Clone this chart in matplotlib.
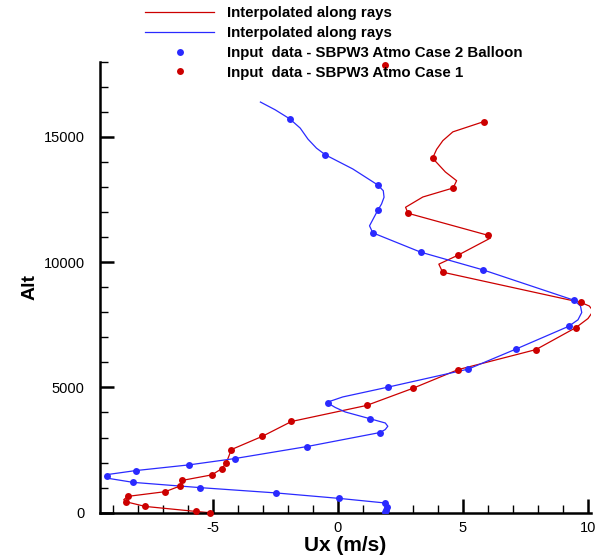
import matplotlib
matplotlib.use("Agg")
import matplotlib.pyplot as plt
from matplotlib.ticker import MultipleLocator
from matplotlib.lines import Line2D

plt.rcParams["font.family"] = ["Liberation Sans", "DejaVu Sans"]
plt.rcParams["axes.unicode_minus"] = False

RED = "#cc0000"
BLUE = "#2a2aff"

# input data - SBPW3 Atmo Case 2 Balloon (Ux, Alt)
blue_ux = [-1.92, -0.49, 1.60, 1.60, 1.40, 3.31, 5.81, 9.44, 9.23, 7.12, 5.21, 2.00,
           -0.37, 1.29, 1.69, -1.23, -4.12, -5.93, -8.08, -9.21, -8.17, -5.49, -2.48,
           0.07, 1.87, 1.96, 1.93, 1.90]
blue_alt = [15720, 14280, 13080, 12070, 11170, 10400, 9690, 8480, 7440, 6530, 5730, 5010,
            4360, 3750, 3200, 2640, 2160, 1910, 1680, 1450, 1210, 1000, 790,
            570, 390, 240, 100, 20]

# input data - SBPW3 Atmo Case 1
red_ux = [1.90, 5.84, 3.79, 4.61, 2.81, 6.01, 4.81, 4.19, 9.72, 9.52, 7.92, 4.81, 2.99,
          1.15, -1.85, -3.01, -4.25, -4.45, -4.63, -5.03, -6.21, -6.29, -6.89, -8.40,
          -8.48, -7.69, -5.67, -5.11]
red_alt = [17850, 15610, 14150, 12960, 11950, 11070, 10280, 9600, 8390, 7390, 6510, 5710, 4960,
           4280, 3640, 3050, 2520, 2000, 1760, 1510, 1290, 1070, 840, 650,
           440, 250, 50, 0]

# interpolated curves, vertices
blue_line_ux = [-3.09, -2.50, -1.92, -1.50, -1.19, -0.85, -0.49, 0.60, 1.60, 1.82, 1.85, 1.75,
                1.60, 1.27, 1.40, 3.31, 5.81, 9.44, 9.70, 9.75, 9.60, 9.23, 7.12, 5.21,
                2.00, 0.20, -0.30, -0.37, -0.10, 0.30, 1.29, 1.90, 2.00, 1.90, 1.69, -1.23,
                -4.12, -5.93, -8.08, -9.15, -9.30, -9.10, -8.17, -5.49, -2.48, 0.07, 1.87,
                1.96, 1.93, 1.90]
blue_line_alt = [16390, 16080, 15720, 15350, 14910, 14550, 14280, 13720, 13080, 12850, 12590, 12320,
                 12070, 11450, 11170, 10400, 9690, 8480, 8250, 7990, 7700, 7440, 6530, 5730,
                 5010, 4620, 4450, 4360, 4200, 4020, 3750, 3580, 3450, 3320, 3200, 2640,
                 2160, 1910, 1680, 1530, 1450, 1360, 1210, 1000, 790, 570, 390,
                 240, 100, 20]

red_line_ux = [5.84, 4.60, 4.20, 3.95, 3.79, 4.30, 4.75, 4.61, 3.40, 2.71, 2.81, 6.01, 6.10,
               4.81, 4.04, 4.19, 9.72, 10.05, 10.21, 10.00, 9.52, 7.92, 4.81, 2.99, 1.15,
               -1.85, -3.01, -4.25, -4.45, -4.63, -5.03, -6.21, -6.29, -6.89, -8.40, -8.55,
               -8.48, -7.69, -5.67, -5.11]
red_line_alt = [15610, 15200, 14850, 14500, 14150, 13600, 13250, 12960, 12600, 12190, 11950, 11070, 10960,
                10280, 9920, 9600, 8390, 8250, 8050, 7750, 7390, 6510, 5710, 4960, 4280,
                3640, 3050, 2520, 2000, 1760, 1510, 1290, 1070, 840, 650, 520,
                440, 250, 50, 0]

fig = plt.figure(figsize=(6.03, 5.59), dpi=100)
ax = fig.add_axes([100 / 603, 1 - 512.7 / 559, 490.5 / 603, 451 / 559])

ax.plot(red_line_ux, red_line_alt, color=RED, lw=0.9, zorder=2)
ax.plot(blue_line_ux, blue_line_alt, color=BLUE, lw=0.9, zorder=2)
ax.plot(blue_ux, blue_alt, "o", color=BLUE, ms=5, mec="none", zorder=3)
ax.plot(red_ux, red_alt, "o", color=RED, ms=5, mec="none", zorder=3, clip_on=False)

ax.set_xlim(-9.5, 10.1)
ax.set_ylim(0, 18000)
ax.xaxis.set_major_locator(MultipleLocator(5))
ax.xaxis.set_minor_locator(MultipleLocator(1))
ax.yaxis.set_major_locator(MultipleLocator(5000))
ax.yaxis.set_minor_locator(MultipleLocator(1000))

for s in ["top", "right"]:
    ax.spines[s].set_visible(False)
for s in ["left", "bottom"]:
    ax.spines[s].set_linewidth(1.8)

ax.tick_params(which="major", direction="in", length=10, width=1.8, labelsize=10.5)
ax.tick_params(which="minor", direction="in", length=6, width=1)
ax.tick_params(axis="x", which="major", pad=6)
ax.tick_params(axis="y", which="major", pad=11)

ax.set_xlabel("Ux (m/s)", fontsize=15, fontweight="bold", labelpad=1)
ax.set_ylabel("Alt", fontsize=14, fontweight="bold", labelpad=4)

handles = [
    Line2D([], [], color=RED, lw=0.9),
    Line2D([], [], color=BLUE, lw=0.9),
    Line2D([], [], ls="none", marker="o", color=BLUE, ms=5, mec="none"),
    Line2D([], [], ls="none", marker="o", color=RED, ms=5, mec="none"),
]
labels = [
    "Interpolated along rays",
    "Interpolated along rays",
    "Input  data - SBPW3 Atmo Case 2 Balloon",
    "Input  data - SBPW3 Atmo Case 1",
]
fig.legend(handles, labels, loc="upper left", bbox_to_anchor=(145 / 603, 1 - 6.5 / 559),
           frameon=False, borderpad=0, borderaxespad=0, handlelength=4.6,
           handletextpad=0.85, labelspacing=0.38,
           prop={"weight": "bold", "size": 10.8})

fig.savefig("out.png", dpi=100)
